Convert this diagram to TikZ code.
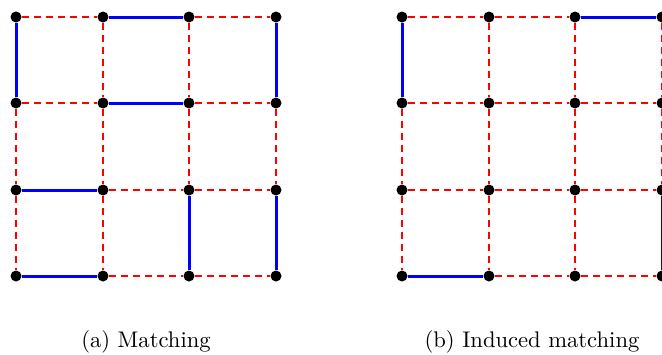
\documentclass[tikz,border=0pt]{standalone}
\usetikzlibrary{backgrounds}
\begin{document}
\begin{tikzpicture}[x=1pt,y=-1pt,
  dot/.style={circle,fill=black,inner sep=0pt,minimum size=11pt},
  medge/.style={draw=blue,line width=3pt},
  dedge/.style={draw=red,dash pattern=on 7pt off 5pt,line width=1.6pt},
  captext/.style={anchor=base,font=\normalsize,scale=2.26}]
\useasboundingbox (0,0) rectangle (662,354);
\foreach \gg/\xa/\xb/\xc/\xd in {L/16/103/189/276,R/402/489/575/662}
  \foreach \ii/\xx in {0/\xa,1/\xb,2/\xc,3/\xd}
    \foreach \jj/\yy in {0/17,1/103,2/190,3/276}
      \node[dot] (\gg\ii\jj) at (\xx,\yy) {};
\begin{pgfonlayer}{background}
\foreach \gg in {L,R}
  \foreach \ii/\kk in {0/1,1/2,2/3}
    \foreach \jj in {0,1,2,3} {
      \path[dedge] (\gg\ii\jj) -- (\gg\kk\jj);
      \path[dedge] (\gg\jj\ii) -- (\gg\jj\kk);
    }
\path[medge] (L00) -- (L01);
\path[medge] (L10) -- (L20);
\path[medge] (L30) -- (L31);
\path[medge] (L11) -- (L21);
\path[medge] (L02) -- (L12);
\path[medge] (L22) -- (L23);
\path[medge] (L32) -- (L33);
\path[medge] (L03) -- (L13);
\path[medge] (R00) -- (R01);
\path[medge] (R20) -- (R30);
\path[medge] (R03) -- (R13);
\path[medge] (R32) -- (R33);
\end{pgfonlayer}
\node[captext] (capa) at (146,347) {(a) Matching};
\node[captext] (capb) at (532,347) {(b) Induced matching};
\end{tikzpicture}
\end{document}
